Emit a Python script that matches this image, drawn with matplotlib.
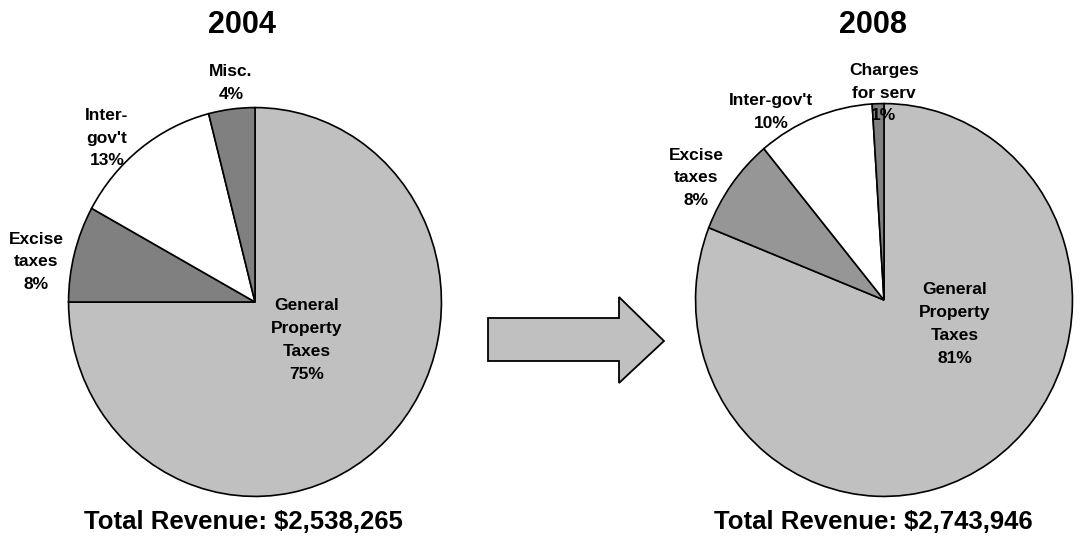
import matplotlib
matplotlib.use("Agg")
import matplotlib.pyplot as plt
import matplotlib.patches as mpatches

plt.rcParams['font.family'] = ['Liberation Sans', 'DejaVu Sans']
plt.rcParams['font.weight'] = 'bold'

# data
years = ['2004', '2008']
totals = ['$2,538,265', '$2,743,946']
labels_2004 = ['General\nProperty\nTaxes', 'Excise\ntaxes', "Inter-\ngov't", 'Misc.']
shares_2004 = [75, 8, 13, 4]
colors_2004 = ['#c0c0c0', '#808080', '#ffffff', '#808080']
labels_2008 = ['General\nProperty\nTaxes', 'Excise\ntaxes', "Inter-gov't", 'Charges\nfor serv']
shares_2008 = [81, 8, 10, 1]
colors_2008 = ['#c0c0c0', '#969696', '#ffffff', '#808080']

W, H = 1086, 537
fig = plt.figure(figsize=(W / 100, H / 100), dpi=100)


def pie_axes(cx, cy, rx, ry):
    # pixel centre / radii -> figure fraction rect
    ax = fig.add_axes([(cx - rx) / W, (H - cy - ry) / H, 2 * rx / W, 2 * ry / H])
    return ax


def draw_pie(ax, shares, colors):
    ax.pie(shares, colors=colors, startangle=90, counterclock=False,
           wedgeprops=dict(edgecolor='black', linewidth=1.2))
    ax.set_aspect('auto')
    ax.set_xlim(-1.003, 1.003)
    ax.set_ylim(-1.003, 1.003)
    ax.axis('off')


ax1 = pie_axes(255, 302, 187, 195)
draw_pie(ax1, shares_2004, colors_2004)
ax2 = pie_axes(884, 300, 189, 197)
draw_pie(ax2, shares_2008, colors_2008)

# overlay in pixel coords for text and the arrow
ov = fig.add_axes([0, 0, 1, 1])
ov.set_xlim(0, W)
ov.set_ylim(H, 0)
ov.axis('off')
ov.patch.set_alpha(0)

arrow = mpatches.Polygon([(488, 318), (619, 318), (619, 297), (664, 341),
                          (619, 383), (619, 361), (488, 361)],
                         closed=True, facecolor='#c0c0c0', edgecolor='black', linewidth=1.3)
ov.add_patch(arrow)

ov.text(242, 25, years[0], fontsize=22, ha='center', va='center')
ov.text(873, 25, years[1], fontsize=22, ha='center', va='center')
ov.text(243, 522, 'Total Revenue: ' + totals[0], fontsize=18.5, ha='center', va='center')
ov.text(873, 522, 'Total Revenue: ' + totals[1], fontsize=18.5, ha='center', va='center')

lab_pos_2004 = [(307, 340), (36, 262), (107, 138), (231, 83)]
lab_pos_2008 = [(955, 324), (696, 178), (771, 112), (884, 93)]
for lab, val, (x, y) in zip(labels_2004, shares_2004, lab_pos_2004):
    ov.text(x, y, f'{lab}\n{val}%', fontsize=12.5, ha='center', va='center',
            linespacing=1.65)
for lab, val, (x, y) in zip(labels_2008, shares_2008, lab_pos_2008):
    ov.text(x, y, f'{lab}\n{val}%', fontsize=12.5, ha='center', va='center',
            linespacing=1.65)

fig.savefig('out.png', dpi=100, facecolor='white')
